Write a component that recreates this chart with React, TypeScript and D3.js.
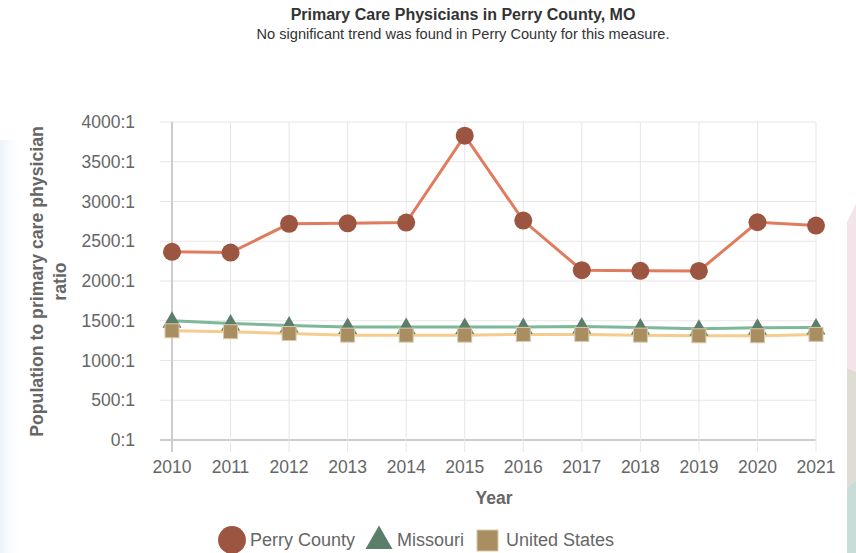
import * as d3 from "d3";

const WIDTH = 856;
const HEIGHT = 553;
const MARGIN = { top: 122, right: 40, bottom: 113, left: 172 };

const years = [2010, 2011, 2012, 2013, 2014, 2015, 2016, 2017, 2018, 2019, 2020, 2021];
const perryCounty = [2367, 2358, 2719, 2726, 2735, 3828, 2760, 2136, 2128, 2126, 2739, 2697];
const missouri = [1500, 1466, 1440, 1420, 1420, 1420, 1420, 1428, 1416, 1400, 1412, 1416];
const unitedStates = [1374, 1362, 1340, 1319, 1319, 1319, 1328, 1328, 1319, 1311, 1311, 1328];
const yTicks = [0, 500, 1000, 1500, 2000, 2500, 3000, 3500, 4000];

const FONT = "'Liberation Sans', Arial, Helvetica, sans-serif";

const series = [
  { name: "Missouri", values: missouri, line: "#7db89b", marker: "#5a7e6a", shape: "triangle" },
  { name: "United States", values: unitedStates, line: "#f4cc8e", marker: "#a88e61", shape: "square" },
  { name: "Perry County", values: perryCounty, line: "#e07b5e", marker: "#9c5541", shape: "circle" },
];

const Marker = ({ shape, x, y, color, scale = 1 }) => {
  if (shape === "circle") return <circle cx={x} cy={y} r={9 * scale} fill={color} />;
  if (shape === "triangle")
    return (
      <path
        transform={`translate(${x},${y}) scale(${scale})`}
        d="M0,-9.5L9.5,7L-9.5,7Z"
        fill={color}
      />
    );
  const s = 7 * scale;
  return <rect x={x - s} y={y - s} width={2 * s} height={2 * s} fill={color} stroke="#d8c9a9" strokeWidth={1} />;
};

const App = () => {
  const boundsWidth = WIDTH - MARGIN.left - MARGIN.right;
  const boundsHeight = HEIGHT - MARGIN.top - MARGIN.bottom;

  const xScale = d3
    .scaleLinear()
    .domain([years[0], years[years.length - 1]])
    .range([MARGIN.left, MARGIN.left + boundsWidth]);
  const yScale = d3
    .scaleLinear()
    .domain([0, 4000])
    .range([MARGIN.top + boundsHeight, MARGIN.top]);

  const lineBuilder = d3
    .line<number>()
    .x((_, i) => xScale(years[i]))
    .y((d) => yScale(d));

  const gridLeft = MARGIN.left - 12;
  const gridRight = MARGIN.left + boundsWidth;
  const bottom = yScale(0);

  return (
    <div style={{ position: "fixed", left: 0, top: 0 }}>
      <svg width={WIDTH} height={HEIGHT} style={{ display: "block", fontFamily: FONT }}>
        <defs>
          <linearGradient id="leftFade" x1="0%" y1="0%" x2="100%" y2="0%">
            <stop offset="0%" stopColor="#eef3f9" />
            <stop offset="100%" stopColor="#ffffff" stopOpacity={0} />
          </linearGradient>
        </defs>
        <rect width={WIDTH} height={HEIGHT} fill="#ffffff" />
        <rect x={0} y={140} width={24} height={413} fill="url(#leftFade)" />
        {/* decorative background shapes at the right edge */}
        <polygon points="847,222 856,204 856,372 847,368" fill="#f4e4ea" />
        <polygon points="847,368 856,372 856,480 847,488" fill="#dedcd3" />
        <polygon points="847,488 856,480 856,553 847,553" fill="#c8dcd8" />

        <text x={463} y={20} textAnchor="middle" fontSize={16} fontWeight="bold" fill="#333">
          Primary Care Physicians in Perry County, MO
        </text>
        <text x={463} y={39} textAnchor="middle" fontSize={14.6} fill="#333">
          No significant trend was found in Perry County for this measure.
        </text>

        {/* grid */}
        {yTicks.map((t) => (
          <line
            key={`h${t}`}
            x1={gridLeft}
            x2={gridRight}
            y1={yScale(t)}
            y2={yScale(t)}
            stroke={t === 0 ? "#cccccc" : "#e6e6e6"}
            strokeWidth={t === 0 ? 2 : 1}
          />
        ))}
        {years.map((yr) => (
          <line
            key={`v${yr}`}
            x1={xScale(yr)}
            x2={xScale(yr)}
            y1={MARGIN.top}
            y2={bottom + 12}
            stroke={yr === years[0] ? "#cccccc" : "#e6e6e6"}
            strokeWidth={yr === years[0] ? 2 : 1}
          />
        ))}

        {/* y tick labels */}
        {yTicks.map((t) => (
          <text
            key={`yl${t}`}
            x={135}
            y={yScale(t)}
            dy="0.35em"
            textAnchor="end"
            fontSize={17.5}
            fill="#666"
          >
            {`${t}:1`}
          </text>
        ))}
        {/* x tick labels */}
        {years.map((yr) => (
          <text key={`xl${yr}`} x={xScale(yr)} y={473} textAnchor="middle" fontSize={17.5} fill="#666">
            {yr}
          </text>
        ))}

        <text x={494} y={504} textAnchor="middle" fontSize={17.5} fontWeight="bold" fill="#666">
          Year
        </text>
        <g transform="translate(37,281.5) rotate(-90)" fontSize={17.7} fontWeight="bold" fill="#666" textAnchor="middle">
          <text x={0} y={6}>Population to primary care physician</text>
          <text x={0} y={29}>ratio</text>
        </g>

        {/* lines */}
        {series.map((s) => (
          <path key={`l${s.name}`} d={lineBuilder(s.values) || ""} fill="none" stroke={s.line} strokeWidth={3} />
        ))}
        {/* markers */}
        {series.map((s) => (
          <g key={`m${s.name}`}>
            {s.values.map((v, i) => (
              <Marker key={i} shape={s.shape} x={xScale(years[i])} y={yScale(v)} color={s.marker} />
            ))}
          </g>
        ))}

        {/* legend */}
        <Marker shape="circle" x={232} y={540} color="#9c5541" scale={1.55} />
        <text x={250} y={546} fontSize={18} fill="#666">Perry County</text>
        <Marker shape="triangle" x={379} y={539} color="#5a7e6a" scale={1.42} />
        <text x={397} y={546} fontSize={18} fill="#666">Missouri</text>
        <Marker shape="square" x={487.5} y={540.5} color="#a88e61" scale={1.5} />
        <text x={506} y={546} fontSize={18} fill="#666">United States</text>
      </svg>
    </div>
  );
};

export default App;
